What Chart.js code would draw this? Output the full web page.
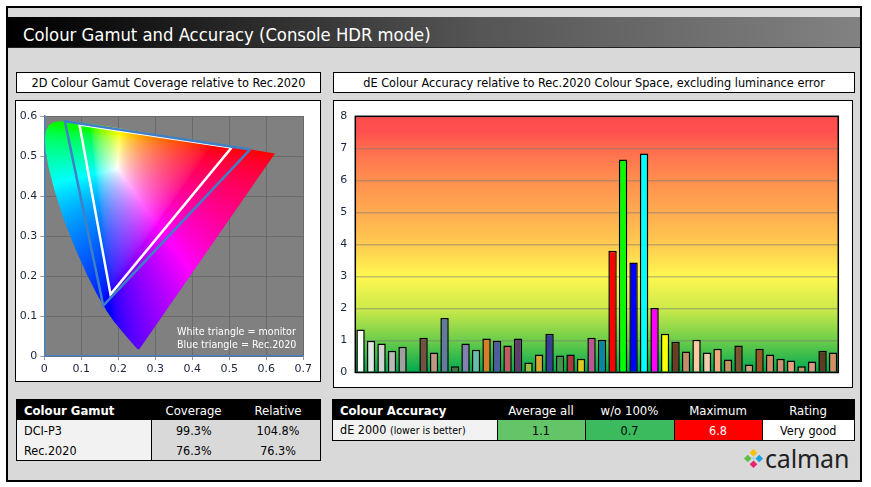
<!DOCTYPE html>
<html>
<head>
<meta charset="utf-8">
<title>Colour Gamut and Accuracy</title>
<script src="https://cdn.jsdelivr.net/npm/chart.js@4.4.1/dist/chart.umd.min.js"></script>
<style>
body { margin: 0; width: 871px; height: 487px; background: #fff; position: relative; overflow: hidden;
       font-family: "DejaVu Sans Condensed", "DejaVu Sans", sans-serif; }
.abs { position: absolute; }
.frame { left: 6px; top: 6px; width: 852px; height: 472px; border: 2px solid #000; background: #d9d9d9; }
.titlebar { left: 8px; top: 17px; width: 852px; height: 31px; border-bottom: 1px solid #222;
            background: linear-gradient(to right, #000 0%, #0a0a0a 8%, #555 55%, #828282 100%);
            color: #fff; font-size: 18.3px; line-height: 31px; padding: 2px 0 0 15px; box-sizing: border-box; }
.hdr { background: #fff; border: 1px solid #000; text-align: center; font-size: 12.6px; line-height: 19px; height: 19px; }
.box { background: #fff; border: 1px solid #000; }
.box canvas { display: block; }
table { border-collapse: collapse; font-size: 12.5px; }
td { height: 20px; padding: 0; text-align: center; line-height: 19px; }
tr.head td { background: #000; color: #fff; font-size: 13px; }
td.first { text-align: left; padding-left: 7px; background: #f2f2f2; }
tr.head td.first { background: #000; font-weight: bold; }
.note { color: #fff; font-size: 10.6px; line-height: 12.5px; font-family: "DejaVu Sans Condensed", sans-serif; }
.logo { left: 743px; top: 442px; height: 32px; display: flex; align-items: center; }
.logo span { font-family: "Noto Sans", sans-serif; font-size: 25px; color: #222; margin-left: 1px; letter-spacing: -0.2px; }
</style>
</head>
<body>
<div class="abs frame"></div>
<div class="abs titlebar">Colour Gamut and Accuracy (Console HDR mode)</div>

<div class="abs hdr" style="left:16px;top:72px;width:303px;">2D Colour Gamut Coverage relative to Rec.2020</div>
<div class="abs hdr" style="left:333px;top:72px;width:520px;">dE Colour Accuracy relative to Rec.2020 Colour Space, excluding luminance error</div>

<div class="abs box" style="left:15px;top:100px;width:304px;height:280px;">
  <canvas id="gamutChart" width="304" height="280"></canvas>
</div>
<div class="abs note" style="left:177px;top:325px;">White triangle = monitor<br>Blue triangle = Rec.2020</div>

<div class="abs box" style="left:333px;top:100px;width:518px;height:286px;">
  <canvas id="deChart" width="518" height="286"></canvas>
</div>

<table class="abs" style="left:16px;top:399px;width:305px;border:1px solid #000;">
  <tr class="head"><td class="first" style="width:127px;">Colour Gamut</td><td style="width:85px;">Coverage</td><td>Relative</td></tr>
  <tr><td class="first" style="border-right:1px solid #000;">DCI-P3</td><td>99.3%</td><td>104.8%</td></tr>
  <tr><td class="first" style="border-right:1px solid #000;">Rec.2020</td><td>76.3%</td><td>76.3%</td></tr>
</table>

<table class="abs" style="left:332px;top:399px;width:523px;border:1px solid #000;">
  <tr class="head"><td class="first" style="width:157px;">Colour Accuracy</td><td style="width:88px;">Average all</td><td style="width:89px;">w/o 100%</td><td style="width:88px;">Maximum</td><td>Rating</td></tr>
  <tr><td class="first" style="border-right:1px solid #000;">dE 2000 <span style="font-size:10.5px;">(lower is better)</span></td>
      <td style="background:#63c468;border-right:1px solid #000;">1.1</td>
      <td style="background:#3cba5e;border-right:1px solid #000;">0.7</td>
      <td style="background:#ff0000;color:#fff;border-right:1px solid #000;">6.8</td>
      <td style="background:#fff;">Very good</td></tr>
</table>

<div class="abs logo">
  <svg width="21" height="21" viewBox="0 0 22 22">
    <polygon points="11,1 15,5 11,9 7,5" fill="#f9c000"/>
    <polygon points="5,7 9,11 5,15 1,11" fill="#5cc04a"/>
    <polygon points="17,7 21,11 17,15 13,11" fill="#1aa0e0"/>
    <polygon points="11,13 15,17 11,21 7,17" fill="#e8246e"/>
    <polygon points="11,9 13,11 11,13 9,11" fill="#a0d8e0"/>
  </svg>
  <span>calman</span>
</div>

<script>
// ---- gamut diagram data (CIE 1976 u'v') ----
const gamutTicksX = ['0', '0.1', '0.2', '0.3', '0.4', '0.5', '0.6', '0.7'];
const gamutTicksY = ['0', '0.1', '0.2', '0.3', '0.4', '0.5', '0.6'];

// spectral locus, 380nm -> 700nm
const locusU = [0.2568, 0.2522, 0.2347, 0.2161, 0.1877, 0.1690, 0.1441, 0.1147, 0.0828, 0.0521, 0.0282, 0.0119, 0.0035,
                0.0014, 0.0046, 0.0123, 0.0231, 0.0360, 0.0501, 0.0792, 0.1127, 0.1531, 0.2026, 0.2623, 0.3315, 0.4035, 0.5203, 0.6234];
const locusV = [0.0166, 0.0169, 0.0350, 0.0549, 0.0871, 0.1119, 0.1510, 0.2044, 0.2708, 0.3427, 0.4117, 0.4698, 0.5131,
                0.5432, 0.5638, 0.5770, 0.5837, 0.5861, 0.5868, 0.5856, 0.5821, 0.5766, 0.5694, 0.5604, 0.5501, 0.5393, 0.5219, 0.5065];

// triangles: R, G, B, back to R
const rec2020U = [0.5566, 0.0556, 0.1593, 0.5566];
const rec2020V = [0.5165, 0.5868, 0.1258, 0.5165];
const monitorU = [0.506, 0.095, 0.179, 0.506];
const monitorV = [0.521, 0.579, 0.154, 0.521];

// ---- dE chart data ----
const patches = ['White', 'Neutral 8', 'Neutral 6.5', 'Neutral 5', 'Neutral 3.5', 'Black',
  'Dark Skin', 'Light Skin', 'Blue Sky', 'Foliage', 'Blue Flower', 'Bluish Green', 'Orange', 'Purplish Blue',
  'Moderate Red', 'Purple', 'Yellow Green', 'Orange Yellow', 'Blue', 'Green', 'Red', 'Yellow', 'Magenta', 'Cyan',
  '100% Red', '100% Green', '100% Blue', '100% Cyan', '100% Magenta', '100% Yellow',
  'Skin 1', 'Skin 2', 'Skin 3', 'Skin 4', 'Skin 5', 'Skin 6', 'Skin 7', 'Skin 8',
  'Skin 9', 'Skin 10', 'Skin 11', 'Skin 12', 'Skin 13', 'Skin 14', 'Skin 15', 'Skin 16'];
const deValues = [1.34, 0.99, 0.90, 0.68, 0.80, 0,
  1.08, 0.62, 1.70, 0.19, 0.90, 0.71, 1.06, 0.99, 0.84, 1.06, 0.31, 0.56, 1.21, 0.53, 0.56, 0.43, 1.08, 1.02,
  3.80, 6.65, 3.43, 6.84, 2.01, 1.21,
  0.96, 0.65, 1.02, 0.62, 0.74, 0.40, 0.84, 0.25, 0.74, 0.56, 0.43, 0.37, 0.19, 0.34, 0.68, 0.62];
const patchColours = ['#ffffff', '#e4e4e4', '#d2d2d2', '#b9b9b9', '#a0a0a0', '#000000',
  '#735244', '#c29682', '#627a9d', '#576c43', '#8580b1', '#67bdaa', '#d67e2c', '#505ba6',
  '#c15a63', '#5e3c6c', '#9dbc40', '#e0a32e', '#383d96', '#469449', '#af363c', '#e7c71f', '#bb5695', '#0885a1',
  '#ff0000', '#00ff00', '#0000ff', '#00ffff', '#ff00ff', '#ffff00',
  '#6b3d24', '#c98c6b', '#fcc9a5', '#fbc9b0', '#f2ab7e', '#c98f5e', '#7b5232', '#d9a07f',
  '#9e5424', '#d48d66', '#d48f72', '#f59c7b', '#c99072', '#d89a7b', '#5c3b22', '#d88e64'];
const deTicks = ['0', '1', '2', '3', '4', '5', '6', '7', '8'];

const toPts = (us, vs) => us.map((u, i) => ({ x: u, y: vs[i] }));

// u'v' -> display rgb, normalised to the brightest channel
function uvToRgb(u, v) {
  const d = 6 * u - 16 * v + 12;
  const x = 9 * u / d, y = 4 * v / d;
  const X = x / y, Y = 1, Z = (1 - x - y) / y;
  let rgb = [3.2406 * X - 1.5372 * Y - 0.4986 * Z,
             -0.9689 * X + 1.8758 * Y + 0.0415 * Z,
             0.0557 * X - 0.2040 * Y + 1.0570 * Z].map(c => Math.max(c, 0));
  const m = Math.max(...rgb) || 1;
  return rgb.map(c => Math.round(255 * Math.pow(c / m, 1 / 1.8)));
}

const plotBg = {
  id: 'plotBg',
  beforeDraw(chart, args, opts) {
    const { ctx, chartArea: a } = chart;
    ctx.save();
    if (opts.gradient) {
      const y = chart.scales.y;
      const g = ctx.createLinearGradient(0, y.getPixelForValue(8), 0, y.getPixelForValue(0));
      opts.gradient.forEach(s => g.addColorStop(s[0], s[1]));
      ctx.fillStyle = g;
    } else {
      ctx.fillStyle = opts.color;
    }
    ctx.fillRect(a.left, a.top, a.right - a.left, a.bottom - a.top);
    ctx.restore();
  },
  afterDraw(chart, args, opts) {
    if (!opts.frame) return;
    const { ctx, chartArea: a } = chart;
    ctx.save();
    ctx.strokeStyle = '#000';
    ctx.lineWidth = 1.5;
    ctx.strokeRect(a.left, a.top, a.right - a.left, a.bottom - a.top);
    ctx.restore();
  }
};

// paints the chromaticity colours inside the spectral locus
const locusFill = {
  id: 'locusFill',
  beforeDatasetsDraw(chart) {
    const { ctx, chartArea: a, scales: { x, y } } = chart;
    const dpr = chart.currentDevicePixelRatio || 1;
    const w = a.right - a.left, h = a.bottom - a.top;
    const off = document.createElement('canvas');
    off.width = Math.ceil(w * dpr); off.height = Math.ceil(h * dpr);
    const octx = off.getContext('2d');
    const img = octx.createImageData(off.width, off.height);
    for (let j = 0; j < off.height; j++) {
      const v = y.getValueForPixel(a.top + (j + 0.5) / dpr);
      for (let i = 0; i < off.width; i++) {
        const u = x.getValueForPixel(a.left + (i + 0.5) / dpr);
        const c = uvToRgb(u, Math.max(v, 0.001));
        const k = (j * off.width + i) * 4;
        img.data[k] = c[0]; img.data[k + 1] = c[1]; img.data[k + 2] = c[2]; img.data[k + 3] = 255;
      }
    }
    octx.putImageData(img, 0, 0);
    const pts = chart.getDatasetMeta(0).data;
    ctx.save();
    ctx.beginPath();
    pts.forEach((p, k) => k ? ctx.lineTo(p.x, p.y) : ctx.moveTo(p.x, p.y));
    ctx.closePath();
    ctx.clip();
    ctx.drawImage(off, a.left, a.top, w, h);
    ctx.restore();
  }
};

const tickFont = { family: 'DejaVu Sans, sans-serif', size: 11 };

// Gamut chart
new Chart(document.getElementById('gamutChart').getContext('2d'), {
  type: 'scatter',
  data: {
    datasets: [
      { data: toPts(locusU, locusV), showLine: false, pointRadius: 0 },
      { data: toPts(rec2020U, rec2020V), showLine: true, borderColor: '#3f7fc6', borderWidth: 2.5, pointRadius: 0 },
      { data: toPts(monitorU, monitorV), showLine: true, borderColor: '#ffffff', borderWidth: 2.5, pointRadius: 0 }
    ]
  },
  options: {
    responsive: false,
    animation: false,
    events: [],
    layout: { padding: { top: 15, right: 16.7, left: 0, bottom: 0 } },
    plugins: { legend: { display: false }, tooltip: { enabled: false }, plotBg: { color: '#808080' } },
    scales: {
      x: {
        type: 'linear', min: 0, max: 0.7,
        afterFit(scale) { scale.height = 25; },
        ticks: { stepSize: 0.1, color: '#1c2440', font: tickFont, padding: 3, maxRotation: 0,
                 callback: (v) => gamutTicksX[Math.round(v * 10)] },
        grid: { color: '#6a6a6a', tickColor: '#999', tickLength: 4 },
        border: { color: '#4a7fc0', width: 1.5 }
      },
      y: {
        type: 'linear', min: 0, max: 0.6,
        afterFit(scale) { scale.width = 28.3; },
        ticks: { stepSize: 0.1, color: '#1c2440', font: tickFont, padding: 3,
                 callback: (v) => gamutTicksY[Math.round(v * 10)] },
        grid: { color: '#6a6a6a', tickColor: '#999', tickLength: 4 },
        border: { color: '#4a7fc0', width: 1.5 }
      }
    }
  },
  plugins: [plotBg, locusFill]
});

// dE chart
new Chart(document.getElementById('deChart').getContext('2d'), {
  type: 'bar',
  data: {
    labels: patches,
    datasets: [{
      data: deValues,
      backgroundColor: patchColours,
      borderColor: '#000',
      borderWidth: 1.5,
      barPercentage: 0.8,
      categoryPercentage: 1.0
    }]
  },
  options: {
    responsive: false,
    animation: false,
    events: [],
    layout: { padding: { top: 15.3, right: 13.7, left: 0, bottom: 0 } },
    plugins: {
      legend: { display: false }, tooltip: { enabled: false },
      plotBg: {
        frame: true,
        gradient: [[0, '#ff4c4c'], [0.06, '#ff4f4f'], [0.125, '#ff6c4e'], [0.25, '#ff8f4f'], [0.375, '#ffab50'],
                   [0.5, '#ffca50'], [0.625, '#fff750'], [0.75, '#cdea4a'], [0.875, '#6ccd4a'], [1, '#00a850']]
      }
    },
    scales: {
      x: {
        afterFit(scale) { scale.height = 12.7; },
        ticks: { display: false },
        grid: { display: false },
        border: { display: false }
      },
      y: {
        min: 0, max: 8,
        afterFit(scale) { scale.width = 21.3; },
        ticks: { stepSize: 1, color: '#1c2440', font: tickFont, padding: 8,
                 callback: (v) => deTicks[v] },
        grid: { color: 'rgba(120,120,120,0.45)', lineWidth: 1.5, drawTicks: false },
        border: { display: false }
      }
    }
  },
  plugins: [plotBg]
});
</script>
</body>
</html>
